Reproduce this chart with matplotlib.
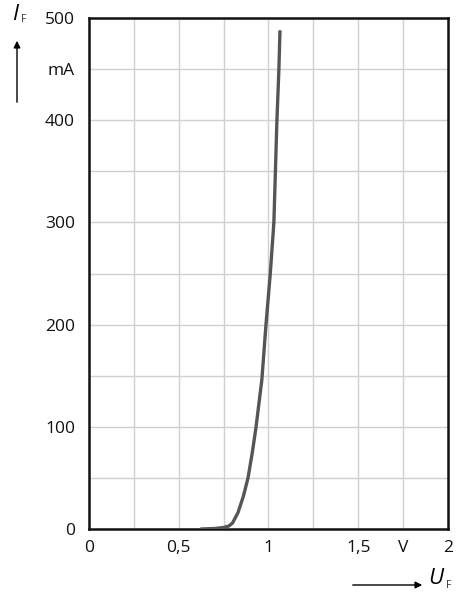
import matplotlib
matplotlib.use('Agg')
import matplotlib.pyplot as plt

# Durchlasskennlinie (Diode)
u_f = [0.62, 0.70, 0.75, 0.78, 0.80, 0.83, 0.86, 0.886, 0.91, 0.93, 0.963, 0.986, 1.01, 1.03, 1.047, 1.058, 1.064]
i_f = [0, 0.5, 1.5, 3, 6, 16, 32, 50, 75, 99, 146, 200, 250, 300, 400, 450, 488]

x_ticks = [0, 0.5, 1, 1.5, 1.75, 2]
x_labels = ['0', '0,5', '1', '1,5', 'V', '2']
y_ticks = [0, 100, 200, 300, 400, 450, 500]
y_labels = ['0', '100', '200', '300', '400', 'mA', '500']

plt.rcParams['font.family'] = ['Open Sans', 'DejaVu Sans']

fig = plt.figure(figsize=(4.62, 6.0), dpi=100)
ax = fig.add_axes([0.1926, 0.1183, 0.7771, 0.8517])

# Gitter
for x in [0.25, 0.5, 0.75, 1.0, 1.25, 1.5, 1.75]:
    ax.axvline(x, color='#d0d0d0', lw=1.0, zorder=0)
for y in range(50, 500, 50):
    ax.axhline(y, color='#d0d0d0', lw=1.0, zorder=0)

ax.plot(u_f, i_f, color='#555555', lw=2.4, solid_capstyle='butt', zorder=3)

ax.set_xlim(0, 2)
ax.set_ylim(0, 500)
ax.set_xticks(x_ticks)
ax.set_xticklabels(x_labels, fontsize=12.5)
ax.set_yticks(y_ticks)
ax.set_yticklabels(y_labels, fontsize=12.5)
ax.tick_params(length=0, pad=8, labelcolor='#111111')
ax.tick_params(axis='y', pad=10)
for s in ax.spines.values():
    s.set_linewidth(1.8)
    s.set_color('#111111')

# Achsenbeschriftungen mit Pfeilen
fig.text(15 / 462, 1 - 14 / 600, 'I', fontsize=16, fontstyle='italic', ha='center', va='center')
fig.text(24 / 462, 1 - 20 / 600, 'F', fontsize=7.5, ha='center', va='center', color='#333333')
fig.add_artist(matplotlib.patches.FancyArrowPatch(
    (17 / 462, 1 - 105 / 600), (17 / 462, 1 - 38 / 600), transform=fig.transFigure,
    arrowstyle='-|>', mutation_scale=10, lw=1.0, color='black'))

fig.text(436 / 462, 1 - 579 / 600, 'U', fontsize=16, fontstyle='italic', ha='center', va='center')
fig.text(449 / 462, 1 - 585 / 600, 'F', fontsize=7.5, ha='center', va='center', color='#333333')
fig.add_artist(matplotlib.patches.FancyArrowPatch(
    (350 / 462, 1 - 585 / 600), (425 / 462, 1 - 585 / 600), transform=fig.transFigure,
    arrowstyle='-|>', mutation_scale=10, lw=1.0, color='black'))

fig.savefig('out.png', dpi=100)
